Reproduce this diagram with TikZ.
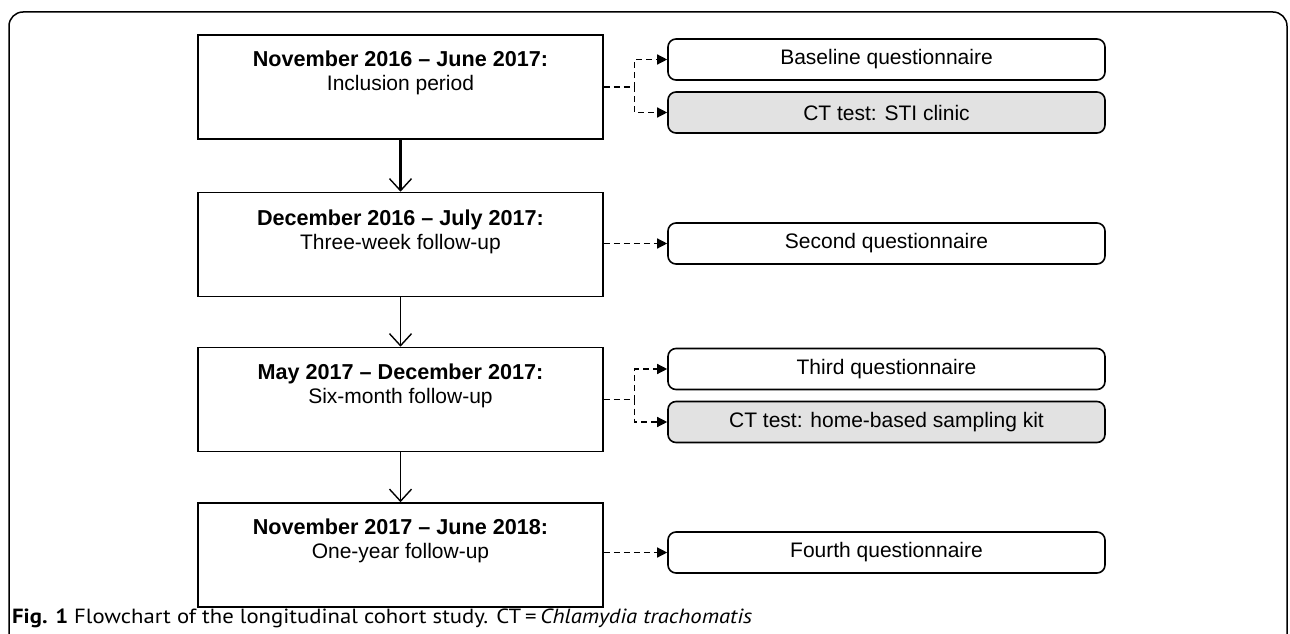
\documentclass[tikz,border=0pt]{standalone}
\usepackage{fontspec}
\setmainfont{Liberation Sans}
\newfontfamily\capfont{PT Sans}
\usetikzlibrary{arrows.meta}
\definecolor{boxgray}{HTML}{E2E2E2}
\newcommand{\hd}[1]{{\fontsize{21.6}{24}\selectfont\bfseries #1}}
\begin{document}
\begin{tikzpicture}[x=1pt,y=-1pt,
  period/.style={draw, line width=1.6pt, minimum width=405pt, minimum height=104pt, inner sep=0pt},
  ptext/.style={align=center, font=\fontsize{21}{24}\selectfont, inner sep=0pt},
  outcome/.style={draw, line width=1.6pt, rounded corners=8pt, minimum width=437pt, minimum height=41pt, inner sep=0pt, font=\fontsize{21}{24}\selectfont},
  grayout/.style={outcome, fill=boxgray},
  flow/.style={line width=1.4pt, -{Straight Barb[length=12pt,width=22pt,line width=1.4pt]}},
  dashconn/.style={line width=1.3pt, dash pattern=on 6pt off 4pt, -{Triangle[length=10pt,width=10pt]}}
]
\useasboundingbox (0,0) rectangle (1290,634);
\begin{scope}
\clip (0,0) rectangle (1290,634);
\draw[line width=1.5pt, rounded corners=14pt] (9,680) -- (9,12) -- (1287,12) -- (1287,680);
\end{scope}

% left column
\node[period] (b1) at (400.5,87) {};
\node[period] (b2) at (400.5,244.5) {};
\node[period] (b3) at (400.5,399.5) {};
\node[period] (b4) at (400.5,555) {};
\node[ptext] (t1) at (400.5,73) {\hd{November 2016 – June 2017:}\\Inclusion period};
\node[ptext] (t2) at (400.5,232) {\hd{December 2016 – July 2017:}\\Three-week follow-up};
\node[ptext] (t3) at (400.5,386) {\hd{May 2017 – December 2017:}\\Six-month follow-up};
\node[ptext] (t4) at (400.5,541) {\hd{November 2017 – June 2018:}\\One-year follow-up};

% right column
\node[outcome] (r1) at (886.5,59.5) {Baseline questionnaire};
\node[grayout] (r2) at (886.5,112.5) {CT test: STI clinic};
\node[outcome] (r3) at (886.5,243.5) {Second questionnaire};
\node[outcome] (r4) at (886.5,369) {Third questionnaire};
\node[grayout] (r5) at (886.5,422) {CT test: home-based sampling kit};
\node[outcome] (r6) at (886.5,552.5) {Fourth questionnaire};

% vertical arrows
\draw[flow, line width=2.6pt] (b1.south) -- (b2.north);
\draw[flow] (b2.south) -- (b3.north);
\draw[flow] (b3.south) -- (b4.north);

% dashed connectors
\draw[dashconn] (b1.east) -- ++(31,0) |- (r1.west);
\draw[dashconn] (b1.east) -- ++(31,0) |- (r2.west);
\draw[dashconn] (b2.east |- r3.west) -- (r3.west);
\draw[dashconn] (b3.east) -- ++(31,0) |- (r4.west);
\draw[dashconn] (b3.east) -- ++(31,0) |- (r5.west);
\draw[dashconn] (b4.east |- r6.west) -- (r6.west);

% caption
\node[anchor=west, inner sep=0pt] (cap) at (12,618) {\resizebox{740pt}{\height}{\capfont\fontsize{20.5}{24}\selectfont\textbf{Fig. 1} Flowchart of the longitudinal cohort study. CT\,=\,\textit{Chlamydia trachomatis}}};
\end{tikzpicture}
\end{document}
